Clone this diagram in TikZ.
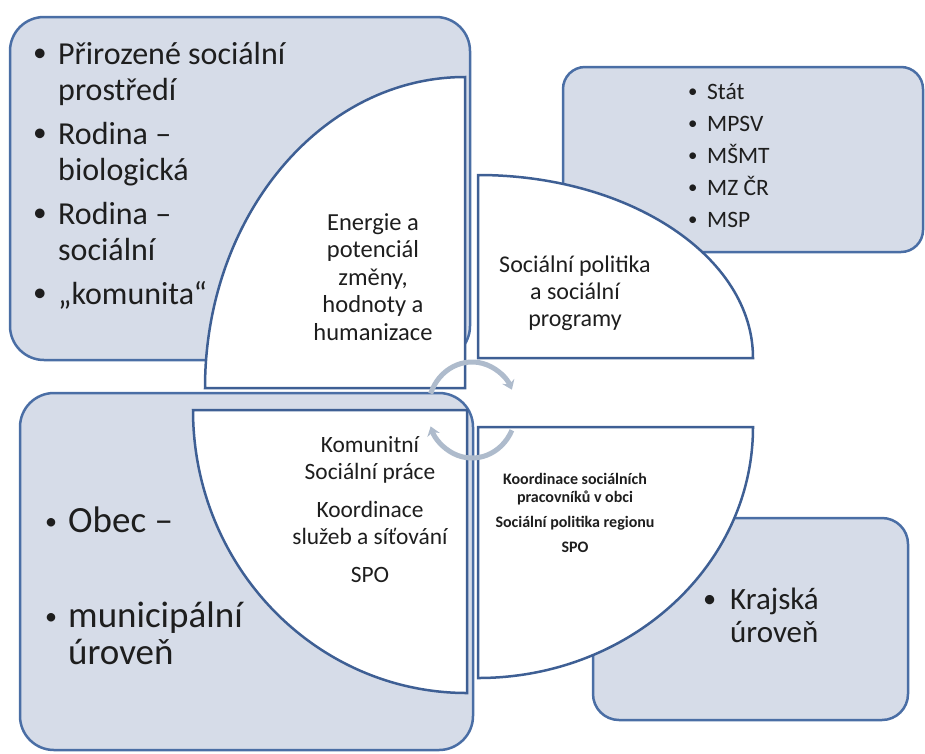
\documentclass[tikz,border=0pt]{standalone}
\usepackage{fontspec}
\setmainfont{Carlito}
\usetikzlibrary{arrows.meta}

\definecolor{boxfill}{HTML}{D6DCE8}
\definecolor{boxline}{HTML}{4A6EA5}
\definecolor{wedgeline}{HTML}{3E5F94}
\definecolor{turngray}{HTML}{AEBBCC}
\definecolor{inktext}{HTML}{1E1E1E}

% bullet in a box of given width, scaled down a little
\newcommand{\bul}[2]{\makebox[#1][l]{\raisebox{0.08em}{\scalebox{#2}{•}}}}
\newcommand{\ind}[1]{\hspace*{#1}}

\begin{document}
\begin{tikzpicture}[x=1pt,y=-1pt,
    levelbox/.style={draw=boxline, fill=boxfill, line width=2.5pt},
    wedge/.style={draw=wedgeline, fill=white, line width=2.5pt},
    listtext/.style={inner sep=0pt, align=left, anchor=north west, text=inktext},
    wedgetext/.style={inner sep=0pt, align=center, anchor=north, text=inktext},
    turnarrow/.style={draw=turngray, line width=5pt, -{Stealth[length=9pt,width=13pt]}}]
        \useasboundingbox (0,0) rectangle (925,753);
        % four levels
        \draw [levelbox, rounded corners=22pt] (563,67) rectangle (923,252);
        \draw [levelbox, rounded corners=26pt] (593,518) rectangle (908,720);
        \draw [levelbox, rounded corners=34pt] (10,17) rectangle (470,360);
        \draw [levelbox, rounded corners=34pt] (20,393) rectangle (473,750);
        % quarter wedges
        \draw [wedge] (465,388) -- (205,388) arc [start angle=180, end angle=270, x radius=260, y radius=311] -- cycle;
        \draw [wedge] (478,358) -- (478,175) arc [start angle=270, end angle=360, x radius=275, y radius=183] -- cycle;
        \draw [wedge] (478,427) -- (753,427) arc [start angle=0, end angle=90, x radius=275, y radius=251] -- cycle;
        \draw [wedge] (467,410) -- (193,410) arc [start angle=180, end angle=90, x radius=274, y radius=283] -- cycle;
        % circular arrows in the middle
        \coordinate (hub) at (472,410);
        \draw [turnarrow] ([shift={(200:44 and 48)}]hub) arc [start angle=200, end angle=335, x radius=44, y radius=48];
        \draw [turnarrow] ([shift={(25:44 and 48)}]hub) arc [start angle=25, end angle=160, x radius=44, y radius=48];
        % texts of the boxes
        \node [listtext, font=\fontsize{32}{36}\selectfont] (family) at (33,42)
            {\bul{25pt}{0.85}Přirozené sociální\\ \ind{25pt}prostředí\\[8pt]
             \bul{25pt}{0.85}Rodina –\\ \ind{25pt}biologická\\[8pt]
             \bul{25pt}{0.85}Rodina –\\ \ind{25pt}sociální\\[8pt]
             \bul{25pt}{0.85}„komunita“};
        \node [listtext, font=\fontsize{23.5}{32}\selectfont] (state) at (688,83)
            {\bul{19pt}{0.8}Stát\\ \bul{19pt}{0.8}MPSV\\ \bul{19pt}{0.8}MŠMT\\ \bul{19pt}{0.8}MZ ČR\\ \bul{19pt}{0.8}MSP};
        \node [listtext, font=\fontsize{37}{37}\selectfont] (town) at (45,507)
            {\bul{23pt}{0.65}Obec –\\[58pt] \bul{23pt}{0.65}municipální\\ \ind{23pt}úroveň};
        \node [listtext, font=\fontsize{31}{33}\selectfont] (region) at (703,588)
            {\bul{27pt}{0.85}Krajská\\ \ind{27pt}úroveň};
        % texts of the wedges
        \node [wedgetext, font=\fontsize{24.5}{27.5}\selectfont] (energy) at (373,213)
            {Energie a\\ potenciál\\ změny,\\ hodnoty a\\ humanizace};
        \node [wedgetext, font=\fontsize{24}{27}\selectfont] (policy) at (575,256)
            {Sociální politika\\ a sociální\\ programy};
        \node [wedgetext, font=\fontsize{23.4}{27}\selectfont] (community) at (370,436)
            {Komunitní\\ Sociální práce\\[11pt] Koordinace\\ služeb a síťování\\[11pt] SPO};
        \node [wedgetext, font=\bfseries\fontsize{16}{18}\selectfont] (coord) at (575,473)
            {Koordinace sociálních\\ pracovníků v obci\\[7pt] Sociální politika regionu\\[7pt] SPO};
    \end{tikzpicture}
\end{document}
